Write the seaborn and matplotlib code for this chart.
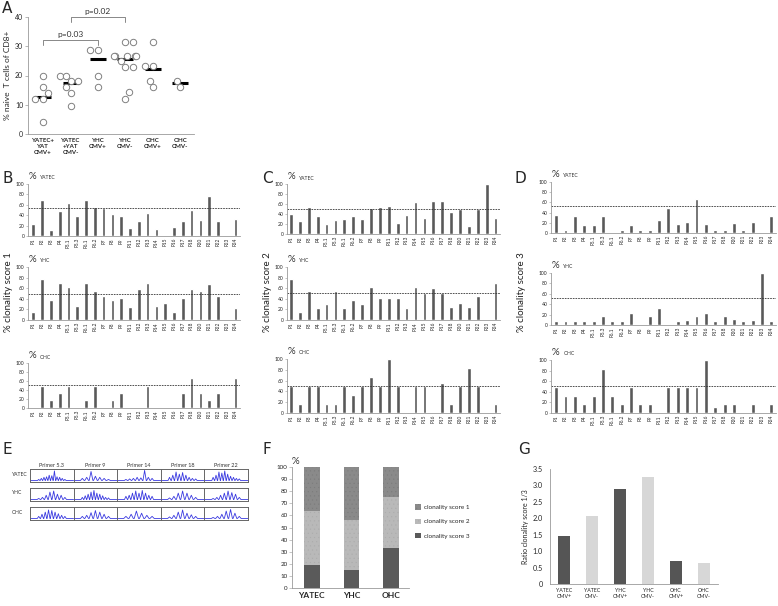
import numpy as np
import pandas as pd
import matplotlib
matplotlib.use("Agg")
import matplotlib.pyplot as plt
import seaborn as sns

# ---------------- data ----------------
a_groups = ["YATEC+\nYAT\nCMV+", "YATEC\n+YAT\nCMV-", "YHC\nCMV+", "YHC\nCMV-", "OHC\nCMV+", "OHC\nCMV-"]
a_g1 = [20, 16, 14, 12, 12, 4]
a_g2 = [20, 20, 18, 18, 16, 14, 9.5]
a_g3 = [28.7, 28.7, 19.8, 15.9]
a_g4 = [31.5, 31.5, 26.5, 26.5, 26.5, 26.5, 26.5, 25, 23, 23, 14.3, 12]
a_g5 = [31.5, 23.2, 23.2, 18.2, 15.9]
a_g6 = [18.2, 15.9]
a_medians = [12.8, 17.6, 25.6, 25.6, 22.3, 17.6]
a_pvals = ["p=0.03", "p=0.02"]
a_pairs = [(0, 2), (1, 3)]
a_plevels = [32.3, 40.0]

cats = ["P1", "P2", "P3", "P4", "P5.1", "P5.3", "P6.1", "P6.2", "P7", "P8", "P9", "P11",
        "P12", "P13", "P14", "P15", "P16", "P17", "P18", "P20", "P21", "P22", "P23", "P24"]
b_yatec = [24, 69, 12, 48, 63, 39, 69, 56, 53, 42, 39, 16, 28, 45, 14, 0, 17, 28, 50, 31, 77, 28, 0, 33]
b_yhc = [15, 77, 38, 69, 62, 27, 69, 54, 46, 38, 42, 25, 58, 69, 27, 33, 15, 42, 58, 55, 67, 46, 0, 23]
b_ohc = [0, 50, 17, 33, 50, 0, 17, 50, 0, 17, 33, 0, 0, 50, 0, 0, 0, 33, 67, 33, 17, 33, 0, 67]
c_yatec = [41, 26, 55, 36, 21, 28, 31, 37, 31, 52, 55, 57, 22, 38, 64, 33, 67, 67, 44, 50, 17, 50, 100, 33]
c_yhc = [77, 15, 54, 23, 31, 54, 23, 38, 31, 62, 42, 42, 42, 23, 63, 50, 61, 50, 25, 33, 25, 46, 0, 69]
c_ohc = [50, 17, 50, 50, 17, 17, 50, 33, 50, 67, 50, 100, 50, 0, 50, 50, 0, 56, 17, 50, 83, 50, 0, 17]
d_yatec = [35, 5, 33, 16, 16, 33, 0, 6, 16, 5, 6, 26, 50, 17, 21, 67, 17, 6, 6, 19, 6, 22, 0, 33]
d_yhc = [8, 8, 8, 8, 8, 18, 8, 8, 23, 0, 17, 33, 0, 8, 9, 17, 23, 8, 17, 11, 8, 9, 100, 8]
d_ohc = [50, 33, 33, 17, 33, 83, 33, 17, 50, 17, 17, 0, 50, 50, 50, 50, 100, 11, 17, 17, 0, 17, 0, 17]
b_thr = [53, 49, 51]
c_thr = [51, 50, 50]
d_thr = [52, 51, 51]
row_names = ["YATEC", "YHC", "OHC"]
score_labels = ["% clonality score 1", "% clonality score 2", "% clonality score 3"]

e_primers = ["Primer 5.3", "Primer 9", "Primer 14", "Primer 18", "Primer 22"]
e_peaks = {
    "YATEC": [[0.1, 0.2, 0.3, 0.35, 0.5, 0.45, 0.9, 0.35, 0.3, 0.2, 0.1],
              [0.2, 0.3, 0.85, 0.4, 0.3, 0.2, 0.1],
              [0.1, 0.15, 0.2, 0.3, 0.25, 0.95, 0.3, 0.2],
              [0.3, 0.5, 0.8, 0.6, 0.75, 0.5, 0.3, 0.2, 0.15],
              [0.3, 0.5, 0.8, 0.7, 0.9, 0.6, 0.4, 0.3, 0.2, 0.15]],
    "YHC": [[0.1, 0.2, 0.4, 0.7, 0.8, 0.5, 0.4, 0.2],
            [0.2, 0.35, 0.5, 0.7, 0.85, 0.6, 0.5, 0.35, 0.2, 0.15],
            [0.3, 0.4, 0.6, 0.8, 0.6, 0.85, 0.6, 0.4, 0.3],
            [0.15, 0.3, 0.6, 0.8, 0.6, 0.4, 0.2],
            [0.1, 0.2, 0.4, 0.6, 0.8, 0.65, 0.5, 0.2]],
    "OHC": [[0.2, 0.4, 0.6, 0.8, 0.75, 0.6, 0.45, 0.3, 0.2],
            [0.2, 0.3, 0.55, 0.75, 0.6, 0.4, 0.2],
            [0.2, 0.4, 0.7, 0.5, 0.3, 0.2],
            [0.15, 0.3, 0.6, 0.8, 0.5, 0.35, 0.2],
            [0.1, 0.2, 0.4, 0.7, 0.85, 0.5, 0.2]],
}

f_groups = ["YATEC", "YHC", "OHC"]
f_score3 = [19, 15, 33]
f_score2 = [45, 41, 42]
f_score1 = [36, 44, 25]

g_groups = ["YATEC\nCMV+", "YATEC\nCMV-", "YHC\nCMV+", "YHC\nCMV-", "OHC\nCMV+", "OHC\nCMV-"]
g_vals = [1.45, 2.07, 2.9, 3.27, 0.7, 0.65]

# ---------------- style ----------------
sns.set_theme(style="white")
plt.rcParams["font.family"] = ["Lato", "DejaVu Sans"]
plt.rcParams["hatch.linewidth"] = 0.3
W, H = 778, 606
fig = plt.figure(figsize=(W / 100, H / 100), dpi=100)
SP = "#9a9a9a"
DARK = "#595959"


def add_ax(x0, y0, x1, y1):
    return fig.add_axes([x0 / W, 1 - y1 / H, (x1 - x0) / W, (y1 - y0) / H])


def style_spines(ax):
    for s in ["top", "right"]:
        ax.spines[s].set_visible(False)
    for s in ["left", "bottom"]:
        ax.spines[s].set_color(SP)
        ax.spines[s].set_linewidth(0.6)


def letter(x, y, t):
    fig.text(x / W, 1 - y / H, t, fontsize=11, va="top", ha="left", family="DejaVu Sans")

# ---------------- panel A ----------------
axA = add_ax(28, 17, 194, 134)
dfA = pd.DataFrame({"group": np.repeat(a_groups, [len(a_g1), len(a_g2), len(a_g3), len(a_g4), len(a_g5), len(a_g6)]),
                    "value": a_g1 + a_g2 + a_g3 + a_g4 + a_g5 + a_g6})
sns.swarmplot(data=dfA, x="group", y="value", order=a_groups, color="white", edgecolor="#808080",
              linewidth=0.7, size=4.6, ax=axA, warn_thresh=1)
sns.pointplot(x=a_groups, y=a_medians, order=a_groups, color="black", marker="_", linestyle="none",
              markersize=12, markeredgewidth=2.2, errorbar=None, ax=axA)
axA.set_xlim(-0.55, 5.5)
axA.set_ylim(0, 40)
axA.set_yticks(np.arange(0, 41, 10))
axA.tick_params(axis="y", labelsize=5, length=2, width=0.5, color=SP, pad=1.5, left=True)
axA.tick_params(axis="x", labelsize=4.4, length=0, pad=3)
for t in axA.get_xticklabels():
    t.set_fontweight("bold")
axA.set_xlabel("")
axA.set_ylabel("% naive  T cells of CD8+", fontsize=6, labelpad=3)
style_spines(axA)
for (i, j), lev, txt in zip(a_pairs, a_plevels, a_pvals):
    axA.plot([i, i, j, j], [lev - 1.8, lev, lev, lev - 1.8], color="#888888", lw=0.7, clip_on=False)
    axA.text((i + j) / 2, lev + 0.6, txt, ha="center", va="bottom", fontsize=6, color="#333333")
letter(2, 1, "A")

# ---------------- panels B, C, D ----------------
panel_data = [(b_yatec, b_yhc, b_ohc), (c_yatec, c_yhc, c_ohc), (d_yatec, d_yhc, d_ohc)]
panel_thr = [b_thr, c_thr, d_thr]
panel_x = [(28, 240, -0.6), (287, 500, -0.45), (551, 776, -0.55)]
panel_rows = [[(184, 236), (267, 320), (363, 408)],
              [(184, 234), (267, 320), (359, 413)],
              [(182, 233), (273, 325), (360, 413)]]
panel_letters = [("B", 2, 171), ("C", 262, 171), ("D", 514, 171)]
panel_ylab_x = [9, 268, 521]

for p in range(3):
    x0, x1, xl = panel_x[p]
    for r in range(3):
        y0, y1 = panel_rows[p][r]
        ax = add_ax(x0, y0, x1, y1)
        sns.barplot(x=cats, y=panel_data[p][r], order=cats, color=DARK, saturation=1, width=0.42, ax=ax)
        ax.axhline(panel_thr[p][r], color="#333333", lw=0.6, ls=(0, (2, 1.2)))
        ax.set_xlim(xl, 23.5)
        ax.set_ylim(0, 100)
        ax.set_yticks(np.arange(0, 101, 20))
        ax.tick_params(axis="y", labelsize=3.6, length=1.5, width=0.4, color=SP, pad=1, left=True)
        ax.tick_params(axis="x", labelsize=3.4, length=0, pad=1.5, rotation=90)
        ax.set_xlabel("")
        ax.set_ylabel("")
        style_spines(ax)
        ax.text(0.005, 1.06, "%", transform=ax.transAxes, fontsize=7, va="bottom", ha="left", color="#333333")
        ax.text(0.055, 1.07, row_names[r], transform=ax.transAxes, fontsize=3.6, va="bottom", ha="left",
                color="#333333")
    lt, lx, ly = panel_letters[p]
    letter(lx, ly, lt)
    fig.text(panel_ylab_x[p] / W, 1 - 292 / H, score_labels[p], rotation=90, fontsize=7, va="center",
             ha="center", color="#222222")

# ---------------- panel E ----------------
letter(2, 442, "E")
col_x0, col_w = 30, 43.6
row_tops = [469, 488, 507]
for r, name in enumerate(row_names):
    fig.text(12 / W, 1 - (row_tops[r] + 5) / H, name, fontsize=3.6, va="center", ha="left", color="#333333")
    for c in range(5):
        ax = add_ax(col_x0 + c * col_w, row_tops[r], col_x0 + (c + 1) * col_w, row_tops[r] + 12.5)
        heights = np.array(e_peaks[name][c])
        n = len(heights)
        pos = np.linspace(0.2, 0.8, n)
        w = 0.3 / n
        xs, ys = [0.0], [0.08]
        for px, h in zip(pos, heights):
            xs += [px - w, px, px + w]
            ys += [0.08, 0.08 + 0.85 * h, 0.08]
        xs.append(1.0)
        ys.append(0.08)
        ax.plot(xs, ys, color="#3a3ae0", lw=0.6)
        ax.set_xlim(0, 1)
        ax.set_ylim(0, 1)
        ax.set_xticks([])
        ax.set_yticks([])
        for s in ax.spines.values():
            s.set_color("#666666")
            s.set_linewidth(0.7)
        if r == 0:
            ax.set_title(e_primers[c], fontsize=4, pad=1.5, color="#333333")

# ---------------- panel F ----------------
letter(262, 442, "F")
axF = add_ax(292, 467, 409, 588)
cum2 = [a + b for a, b in zip(f_score3, f_score2)]
cum1 = [a + b for a, b in zip(cum2, f_score1)]
sns.barplot(x=f_groups, y=cum1, order=f_groups, color="#8a8a8a", saturation=1, width=0.4, ax=axF,
            label="clonality score 1", hatch="....", edgecolor="#7c7c7c", linewidth=0)
sns.barplot(x=f_groups, y=cum2, order=f_groups, color="#b9b9b9", saturation=1, width=0.4, ax=axF,
            label="clonality score 2", hatch="....", edgecolor="#acacac", linewidth=0)
sns.barplot(x=f_groups, y=f_score3, order=f_groups, color="#5a5a5a", saturation=1, width=0.4, ax=axF,
            label="clonality score 3", linewidth=0)
axF.set_xlim(-0.5, 2.45)
axF.set_ylim(0, 100)
axF.set_yticks(np.arange(0, 101, 10))
axF.tick_params(axis="y", labelsize=4.5, length=2, width=0.4, color=SP, pad=1, left=True)
axF.tick_params(axis="x", labelsize=6, length=0, pad=3)
for t in axF.get_xticklabels():
    t.set_fontweight("bold")
axF.set_xlabel("")
axF.set_ylabel("")
style_spines(axF)
axF.text(0.0, 1.01, "%", transform=axF.transAxes, fontsize=7, va="bottom", ha="left", color="#333333")
axF.legend(loc="center left", bbox_to_anchor=(1.0, 0.55), frameon=False, fontsize=4.6,
           handlelength=0.9, handleheight=0.9, handletextpad=0.5, labelspacing=1.3)

# ---------------- panel G ----------------
letter(518, 442, "G")
axG = add_ax(550, 469, 718, 584)
sns.barplot(x=g_groups, y=g_vals, order=g_groups, hue=g_groups, palette=["#555555", "#d7d7d7"] * 3,
            saturation=1, width=0.4, legend=False, ax=axG, linewidth=0)
axG.set_xlim(-0.5, 5.5)
axG.set_ylim(0, 3.5)
axG.set_yticks(np.arange(0, 3.51, 0.5))
axG.set_yticklabels(["0"] + [f"{v:.1f}" for v in np.arange(0.5, 3.51, 0.5)])
axG.tick_params(axis="y", labelsize=5.2, length=0, pad=5)
axG.tick_params(axis="x", labelsize=3.8, length=0, pad=3)
axG.set_xlabel("")
axG.set_ylabel("Ratio clonality score 1/3", fontsize=5, labelpad=3)
style_spines(axG)

fig.savefig("out.png", dpi=100)
